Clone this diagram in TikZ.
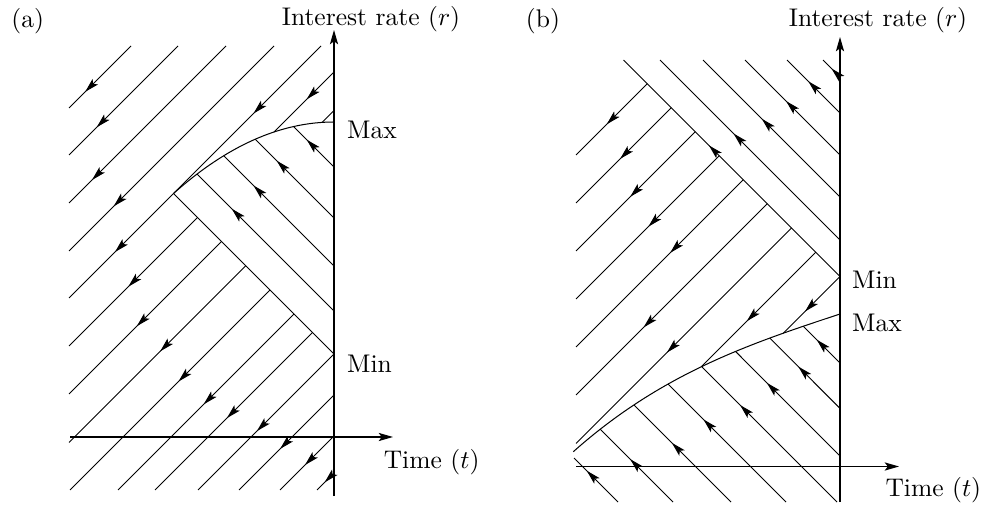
\documentclass[tikz,border=0pt]{standalone}
\usetikzlibrary{arrows.meta,decorations.markings}
\begin{document}
\begin{tikzpicture}[x=0.392pt,y=-0.392pt,line width=0.4pt,
  fl/.style={postaction={decorate},decoration={markings,mark=at position #1 with {\arrow{Stealth[length=5.6pt,width=3pt,inset=1.2pt]}}}},
  ax/.style={-{Stealth[length=5.6pt,width=3.2pt,inset=1.2pt]},line width=0.5pt},
  lab/.style={inner sep=0pt,font=\fontsize{10}{12}\selectfont}]
\useasboundingbox (0,0) rectangle (992,509);
% ---------------- panel (a) ----------------
\coordinate (aC) at (173.5,193.5);
\coordinate (aMax) at (334,122);
\coordinate (aMin) at (334,354);
% region above the curve
\draw[fl=0.74] (131,46) -- (69,108);
\draw[fl=0.746] (178,46) -- (69,155);
\draw[fl=0.855] (226,46) -- (69,203);
\draw[fl=0.784] (274,46) -- (69,251);
\draw[fl=0.459] (321,46) -- (aC);
\draw[fl=0.56] (aC) -- (69,298);
\draw[fl=0.455] (334,72) -- (274,132);
\draw (334,110.5) -- (322.1,122.4);
% boundary curve and min line
\draw (aC) .. controls (227,145.83) and (280.5,122) .. (aMax);
\draw (aC) -- (aMin);
% region between curve and min line
\draw[fl=0.674] (334,167) -- (293.5,126.5);
\draw[fl=0.727] (334,218) -- (255.2,139.2);
\draw[fl=0.73] (334,266) -- (223.7,155.7);
\draw[fl=0.747] (334,311) -- (197.05,174.06);
% region below min line
\draw[fl=0.539] (197.5,217.5) -- (69,346);
\draw[fl=0.556] (221.5,241.5) -- (69,394);
\draw[fl=0.485] (245.75,265.75) -- (69,442.5);
\draw[fl=0.4585] (270,290) -- (70,490);
\draw[fl=0.515] (294,314) -- (118,490);
\draw[fl=0.545] (312.5,332.5) -- (155,490);
\draw[fl=0.568] (aMin) -- (198,490);
\draw[fl=0.568] (334,395) -- (239,490);
\draw[fl=0.537] (334,436) -- (280,490);
\draw[fl=0.55] (334,473) -- (317,490);
% axes
\coordinate (aVb) at (334,496); \coordinate (aVt) at (334,30);
\coordinate (aHl) at (70,437); \coordinate (aHr) at (393,437);
\draw[ax] (aVb) -- (aVt);
\draw[ax] (aHl) -- (aHr);
\node[lab,anchor=base] (la) at (27.7,28) {(a)};
\node[lab,anchor=base] (lra) at (371,25.5) {Interest rate $(r)$};
\node[lab,anchor=base west] (lmaxa) at (346.7,139) {Max};
\node[lab,anchor=base west] (lmina) at (346.7,372.3) {Min};
\node[lab,anchor=base west] (lta) at (383.3,468.3) {Time $(t)$};
% ---------------- panel (b) ----------------
\coordinate (bMin) at (840,276.5);
\coordinate (bMax) at (840,314);
% region above min line
\draw[fl=0.608] (bMin) -- (623.5,60);
\draw[fl=0.593] (840,240) -- (660,60);
\draw[fl=0.571] (840,197) -- (703,60);
\draw[fl=0.568] (840,155) -- (745,60);
\draw[fl=0.598] (840,113) -- (787,60);
\draw[fl=0.5] (840,77) -- (823,60);
% region left of min line
\draw[fl=0.569] (647.25,83.75) -- (576,155);
\draw[fl=0.538] (671.25,107.75) -- (576,203);
\draw[fl=0.547] (695.25,131.75) -- (576,251);
\draw[fl=0.495] (719.25,155.75) -- (576,299);
\draw[fl=0.438] (743.25,179.75) -- (576,347);
\draw[fl=0.648] (767.25,203.75) -- (576,395);
\draw[fl=0.579] (791.5,228) -- (576,443.5);
\draw[fl=0.604] (815.75,252.25) -- (701.5,366.5);
\draw[fl=0.617] (bMin) -- (783.3,333.2);
% boundary curve
\draw plot[domain=0:266.7,samples=80] ({840-\x},{314+0.33*\x+2.62*(\x/100)^3});
% region below the curve
\draw[fl=0.634] (840,363) -- (803.26,326.25);
\draw[fl=0.594] (840,408.3) -- (769.8,338.07);
\draw[fl=0.70] (840,456) -- (735.5,351.48);
\draw[fl=0.716] (837,502) -- (701.5,366.5);
\draw[fl=0.70] (786,502) -- (668,384);
\draw[fl=0.61] (731,502) -- (633.9,404.9);
\draw[fl=0.59] (673,502) -- (600.25,429.25);
\draw[fl=0.71] (618,502) -- (574,458);
% axes
\coordinate (bVb) at (840,502); \coordinate (bVt) at (840,37);
\coordinate (bHl) at (576,466.5); \coordinate (bHr) at (899,466.5);
\draw[ax] (bVb) -- (bVt);
\draw[ax] (bHl) -- (bHr);
\node[lab,anchor=base] (lb) at (543,28) {(b)};
\node[lab,anchor=base] (lrb) at (878,26.5) {Interest rate $(r)$};
\node[lab,anchor=base west] (lminb) at (851.7,288.3) {Min};
\node[lab,anchor=base west] (lmaxb) at (851.7,331.7) {Max};
\node[lab,anchor=base west] (ltb) at (885,496) {Time $(t)$};
\end{tikzpicture}
\end{document}
